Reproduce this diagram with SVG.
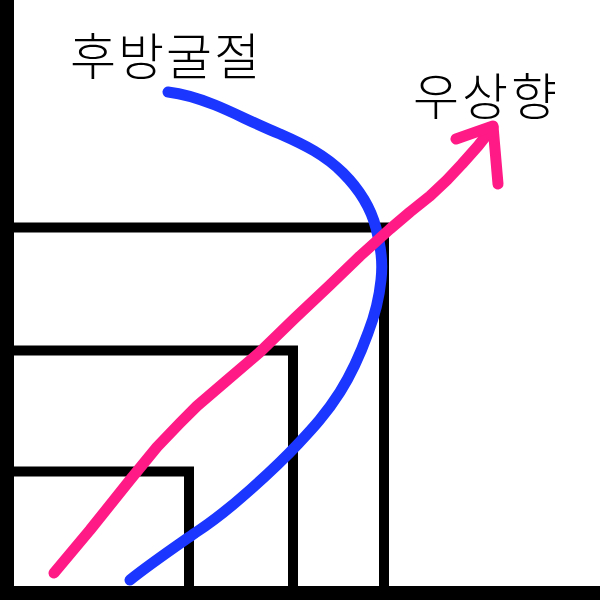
<svg xmlns="http://www.w3.org/2000/svg" width="600" height="600" viewBox="0 0 600 600">
<style>
.frame{fill:none;stroke:#000;stroke-width:10;stroke-linejoin:miter}
.lbl{font-family:"Noto Sans CJK KR","Noto Sans",sans-serif;font-size:50px;font-weight:300;fill:#000}
.blue{fill:none;stroke:#1a36ff;stroke-width:11;stroke-linecap:round;stroke-linejoin:round}
.pink{fill:none;stroke:#ff1a85;stroke-width:11;stroke-linecap:round;stroke-linejoin:round}
</style>
<rect width="600" height="600" fill="#fff"/>
<g id="axes">
<rect x="0" y="0" width="14" height="600" fill="#000"/>
<rect x="0" y="586" width="600" height="14" fill="#000"/>
</g>
<g id="rect-large"><polyline class="frame" points="14,227.5 384,227.5 384,586"/></g>
<g id="rect-medium"><polyline class="frame" points="14,350.5 293,350.5 293,586"/></g>
<g id="rect-small"><polyline class="frame" points="14,471.5 189,471.5 189,586"/></g>
<g id="connectors">
<path id="blue-curve" class="blue" d="M168,92 C185,94 200,99 215,105 C235,113 255,124 280,134 C305,145 325,155 343,173 C358,188 370,205 376,228 C381,248 383,262 381,280 C379,300 375,315 368,333 C360,355 352,373 340,392 C326,414 313,428 298,444 C282,461 268,474 250,490 C232,506 215,520 195,533 C175,547 150,564 130,580"/>
<polyline id="pink-arrow" class="pink" points="54,573 90,530 130,480 157,447 180,423 197,406 225,382 260,352 295,318 330,285 360,256 390,229 410,212 430,196 447,180 462,164 478,146 493,127"/>
<polyline class="pink" points="456,139 493,126 498,184"/>
</g>
<g id="label-left"><text class="lbl" x="70" y="75" textLength="190" lengthAdjust="spacing">후방굴절</text></g>
<g id="label-right"><text class="lbl" x="413" y="115" textLength="144" lengthAdjust="spacing">우상향</text></g>
</svg>
